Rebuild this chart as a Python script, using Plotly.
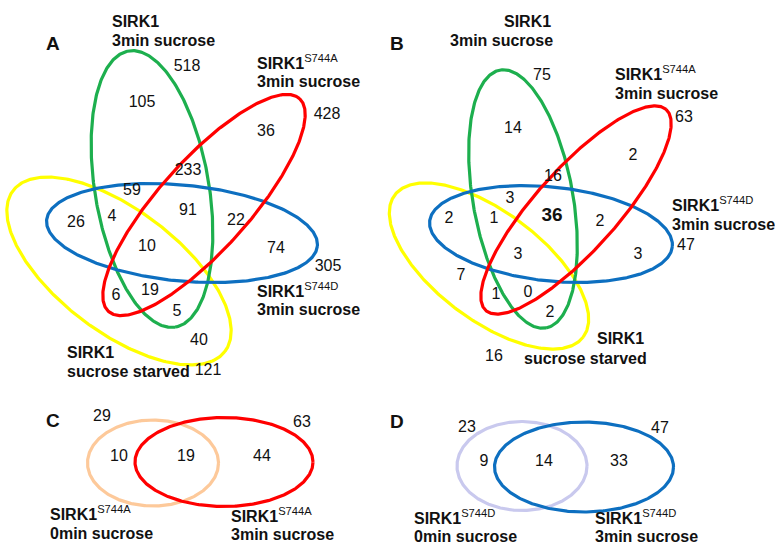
import numpy as np
import plotly.graph_objects as go

# ---------------- data (region counts) ----------------
a_counts = ["518", "105", "428", "36", "233", "59", "91", "22", "26", "4", "10",
            "74", "305", "6", "19", "5", "40", "121"]
b_counts = ["75", "14", "63", "2", "16", "3", "2", "2", "1", "47", "3", "3",
            "7", "1", "0", "2", "16"]
b_center_count = "36"
c_counts = ["29", "63", "10", "19", "44"]
d_counts = ["23", "47", "9", "14", "33"]

# set labels (line 1, line 2)
a_labels = [("<b>SIRK1</b>", "<b>3min sucrose</b>"),
            ("<b>SIRK1</b><sup>S744A</sup>", "<b>3min sucrose</b>"),
            ("<b>SIRK1</b><sup>S744D</sup>", "<b>3min sucrose</b>"),
            ("<b>SIRK1</b>", "<b>sucrose starved</b>")]
b_labels = a_labels
c_labels = [("<b>SIRK1</b><sup>S744A</sup>", "<b>0min sucrose</b>"),
            ("<b>SIRK1</b><sup>S744A</sup>", "<b>3min sucrose</b>")]
d_labels = [("<b>SIRK1</b><sup>S744D</sup>", "<b>0min sucrose</b>"),
            ("<b>SIRK1</b><sup>S744D</sup>", "<b>3min sucrose</b>")]
panel_letters = ["A", "B", "C", "D"]

# ---------------- layout (positions / styles) ----------------
GREEN = "#1DAF4E"
RED = "#FF0000"
BLUE = "#0D6FC0"
YELLOW = "#FFFF00"
PEACH = "#FDC99A"
LAVENDER = "#C9C9EE"

# ellipses: cx, cy, a, b, angle(deg, screen coords), colour ; drawn in order
ellipses = [
    # panel A
    (119, 271, 133, 61, 37.2, YELLOW),
    (152, 189, 140, 57, 80.4, GREEN),
    (182, 233, 136, 48, 5.5, BLUE),
    (204, 205, 143, 45, -48.1, RED),
    # panel B
    (489, 266, 118, 54, 37.0, YELLOW),
    (523, 199, 131, 50, 79.9, GREEN),
    (551, 234, 122, 47, 6.0, BLUE),
    (576, 210, 135, 41, -48.1, RED),
    # panel C
    (153, 463, 65.5, 43, 0, PEACH),
    (224, 462, 89, 44.5, 0, RED),
    # panel D
    (522, 466, 65, 44.5, 0, LAVENDER),
    (584, 467, 89.5, 45, 0, BLUE),
]

a_pos = [(187, 67), (142, 103), (327, 115), (266, 132), (188, 171), (132, 191),
         (188, 211), (236, 221), (76, 223), (112, 217), (147, 247), (276, 249),
         (328, 267), (116, 296), (150, 291), (177, 312), (199, 341), (208, 371)]
b_pos = [(542, 76), (513, 129), (684, 118), (633, 156), (553, 177), (510, 199),
         (600, 222), (449, 219), (494, 219), (686, 246), (518, 255), (638, 255),
         (461, 276), (496, 295), (528, 293), (550, 313), (494, 357)]
b_center_pos = (552, 216)
c_pos = [(102, 417), (302, 423), (119, 457), (186, 457), (262, 457)]
d_pos = [(467, 428), (660, 429), (484, 462), (544, 462), (619, 462)]

a_label_pos = [((110, 21), (110, 40)), ((255, 62), (255, 81)),
               ((255, 290), (255, 309)), ((65, 352), (65, 371))]
b_label_pos = [((502, 21), (448, 40)), ((613, 73), (613, 93)),
               ((670, 204), (670, 224)), ((595, 338), (522, 358))]
c_label_pos = [((48, 513), (48, 533)), ((229, 515), (229, 534))]
d_label_pos = [((412, 517), (412, 536)), ((593, 517), (593, 536))]
letter_pos = [(53, 43), (397, 43), (53, 420), (397, 421)]

FONT = "Liberation Sans, Arial, sans-serif"

fig = go.Figure()

t = np.linspace(0, 2 * np.pi, 400)
for cx, cy, a, b, ang, col in ellipses:
    r = np.deg2rad(ang)
    x = cx + a * np.cos(t) * np.cos(r) - b * np.sin(t) * np.sin(r)
    y = cy + a * np.cos(t) * np.sin(r) + b * np.sin(t) * np.cos(r)
    fig.add_trace(go.Scatter(x=x, y=y, mode="lines",
                             line=dict(color=col, width=3.2),
                             hoverinfo="skip", showlegend=False))

# numbers
for counts, pos in [(a_counts, a_pos), (b_counts, b_pos), (c_counts, c_pos), (d_counts, d_pos)]:
    fig.add_trace(go.Scatter(x=[p[0] for p in pos], y=[p[1] for p in pos],
                             text=counts, mode="text", textposition="middle center",
                             textfont=dict(family=FONT, size=16, color="#111111"),
                             hoverinfo="skip", showlegend=False))
fig.add_trace(go.Scatter(x=[b_center_pos[0]], y=[b_center_pos[1]],
                         text=["<b>" + b_center_count + "</b>"], mode="text",
                         textfont=dict(family=FONT, size=19, color="#111111"),
                         hoverinfo="skip", showlegend=False))

annotations = []
for labels, positions in [(a_labels, a_label_pos), (b_labels, b_label_pos),
                          (c_labels, c_label_pos), (d_labels, d_label_pos)]:
    for (l1, l2), (p1, p2) in zip(labels, positions):
        for txt, p in [(l1, p1), (l2, p2)]:
            annotations.append(dict(x=p[0], y=p[1], xref="x", yref="y", text=txt,
                                    showarrow=False, xanchor="left", yanchor="middle",
                                    font=dict(family=FONT, size=16, color="#111111")))
for letter, p in zip(panel_letters, letter_pos):
    annotations.append(dict(x=p[0], y=p[1], xref="x", yref="y", text="<b>" + letter + "</b>",
                            showarrow=False, xanchor="center", yanchor="middle",
                            font=dict(family=FONT, size=19, color="#111111")))

fig.update_layout(
    width=775, height=544,
    margin=dict(l=0, r=0, t=0, b=0),
    paper_bgcolor="white", plot_bgcolor="white",
    xaxis=dict(range=[0, 775], visible=False, fixedrange=True),
    yaxis=dict(range=[544, 0], visible=False, fixedrange=True),
    annotations=annotations,
    showlegend=False,
)

fig.write_html("out.html", config={"displayModeBar": False},
               post_script="document.body.style.margin='0';document.body.style.overflow='hidden';")
